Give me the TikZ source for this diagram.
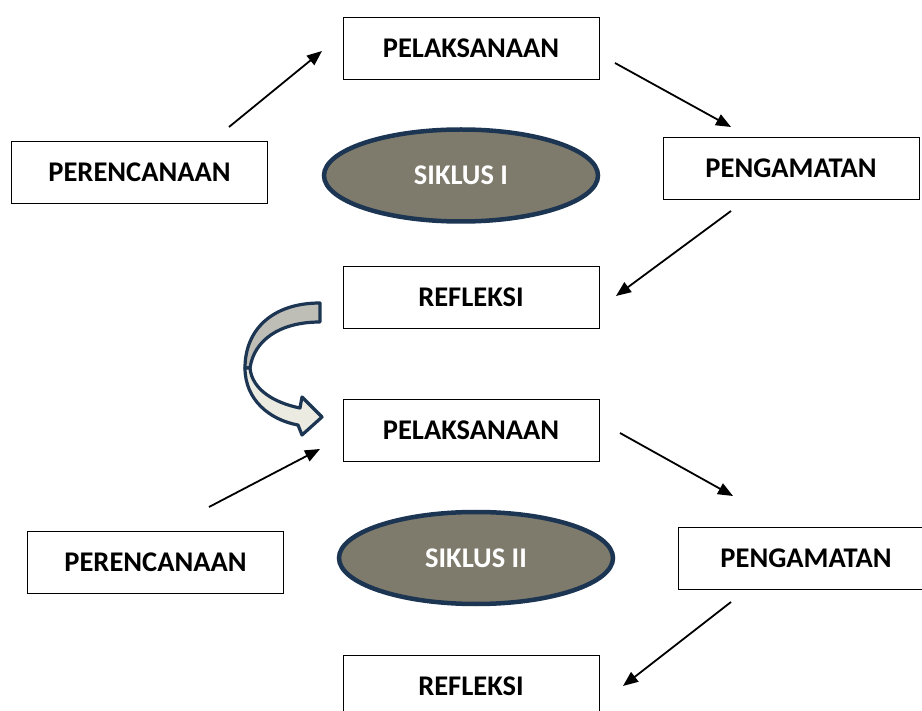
\documentclass[tikz,border=0pt]{standalone}
\usepackage{fontspec}
\setmainfont{Carlito}
\usetikzlibrary{shapes.geometric,arrows.meta}
\definecolor{navy}{HTML}{1C3553}
\definecolor{olive}{HTML}{7F7B6C}
\definecolor{curlgray}{HTML}{BEBEB6}
\definecolor{curlcream}{HTML}{ECEBE1}
\tikzset{
  box/.style={draw=black, line width=0.9pt, fill=white, minimum width=256pt, minimum height=62pt, inner sep=0pt, font=\fontsize{28.5}{32}\selectfont\bfseries},
  cyc/.style={ellipse, draw=navy, line width=4.5pt, fill=olive, minimum width=274pt, minimum height=92pt, inner sep=0pt, text=white, font=\fontsize{28.5}{32}\selectfont\bfseries},
  flow/.style={line width=1.8pt, -{Triangle[length=15pt,width=12pt]}},
  curl/.style={draw=navy, line width=3.2pt, line join=round}
}
\begin{document}
\begin{tikzpicture}[x=1pt,y=-1pt]
\useasboundingbox (0,0) rectangle (922,711);
% cycle I
\node[box] (pel1) at (471,48) {PELAKSANAAN};
\node[box] (per1) at (139.5,172) {PERENCANAAN};
\node[box] (pen1) at (791,168) {PENGAMATAN};
\node[box] (ref1) at (471,297) {REFLEKSI};
\node[cyc] (sik1) at (461,175.5) {SIKLUS I};
% cycle II
\node[box] (pel2) at (471,430) {PELAKSANAAN};
\node[box] (per2) at (155.5,562) {PERENCANAAN};
\node[box] (pen2) at (806,558) {PENGAMATAN};
\node[box] (ref2) at (471,686) {REFLEKSI};
\node[cyc] (sik2) at (476,558) {SIKLUS II};
% arrow end points
\coordinate (a1s) at (229,127); \coordinate (a1e) at (322,51);
\coordinate (a2s) at (615,63);  \coordinate (a2e) at (731,127);
\coordinate (a3s) at (731,211); \coordinate (a3e) at (616,296);
\coordinate (a4s) at (209,507); \coordinate (a4e) at (320,449);
\coordinate (a5s) at (620,433); \coordinate (a5e) at (733,496);
\coordinate (a6s) at (731,602); \coordinate (a6e) at (623,686);
\draw[flow] (a1s) -- (a1e);
\draw[flow] (a2s) -- (a2e);
\draw[flow] (a3s) -- (a3e);
\draw[flow] (a4s) -- (a4e);
\draw[flow] (a5s) -- (a5e);
\draw[flow] (a6s) -- (a6e);
% curved arrow
\draw[curl, fill=curlgray] (320,303) .. controls (272,303) and (245,330) .. (245,368)
  -- (250,368) .. controls (254,340) and (280,322) .. (320,322) -- cycle;
\draw[curl, fill=curlcream] (245,368) .. controls (245,400) and (270,420) .. (298,425)
  -- (302,435) -- (322,417) -- (302,397) -- (300,408)
  .. controls (275,403) and (252,390) .. (250,368) -- cycle;
\end{tikzpicture}
\end{document}
